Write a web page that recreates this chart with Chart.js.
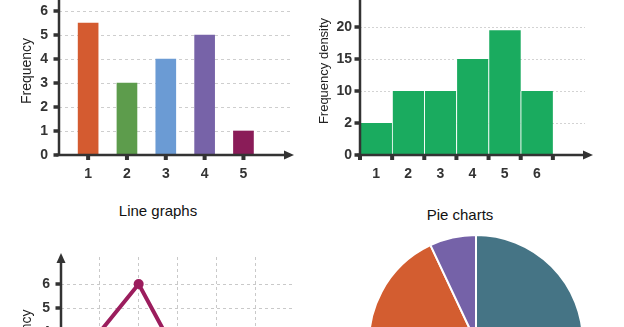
<!DOCTYPE html>
<html><head><meta charset="utf-8">
<script src="https://cdn.jsdelivr.net/npm/chart.js@4.4.1/dist/chart.umd.min.js"></script>
<style>
html,body{margin:0;padding:0;background:#fff;width:624px;height:327px;overflow:hidden;position:relative;}
canvas{position:absolute;display:block;}
.title{position:absolute;font:15px 'Liberation Sans',Arial,sans-serif;line-height:15px;color:#111;white-space:nowrap;transform:translateX(-50%);}
</style></head><body>
<canvas id="cBar" width="310" height="223" style="left:0;top:-33px"></canvas>
<canvas id="cHist" width="314" height="223" style="left:310px;top:-33px"></canvas>
<div class="title" style="left:158px;top:203px">Line graphs</div>
<canvas id="cLine" width="310" height="230" style="left:0;top:230px"></canvas>
<div class="title" style="left:460px;top:207px">Pie charts</div>
<canvas id="cPie" width="216" height="216" style="left:368px;top:234px"></canvas>
<script>
// ---- data ----
const barCategories = [1, 2, 3, 4, 5];
const barValues = [5.5, 3, 4, 5, 1];
const barColors = ['#d45b30', '#5d9c4c', '#6b9bd4', '#7763a8', '#8a1c58'];
const barYTicks = [0, 1, 2, 3, 4, 5, 6];

const histCategories = ['1', '2', '3', '4', '5', '6'];
const histValues = [5, 10, 10, 15, 19.5, 10];
const histYTickValues = [0, 5, 10, 15, 20];
const histYTickLabels = ['0', '2', '10', '15', '20'];

const lineX = [1, 2, 3];
const lineValues = [4, 6, 3];
const lineXGrid = [1, 2, 3, 4, 5];
const lineYTicks = [0, 1, 2, 3, 4, 5, 6];

const pieLabels = ['A', 'B', 'C'];
const pieValues = [52, 41, 7];
const pieColors = ['#457485', '#d35d30', '#7562a8'];

// ---- styles ----
const AXIS = '#333';
const FONT = "'Liberation Sans', Arial, sans-serif";
const tickFont = {family: FONT, size: 14, weight: 'bold'};

const axesPlugin = {
  id: 'axes',
  afterDraw(chart, args, o) {
    const {ctx} = chart, a = chart.chartArea, xs = chart.scales.x, ys = chart.scales.y;
    ctx.save();
    ctx.fillStyle = AXIS; ctx.strokeStyle = AXIS; ctx.lineWidth = 2.5;
    const ax = a.left;
    ctx.beginPath();
    ctx.moveTo(ax, a.bottom + 1);
    ctx.lineTo(ax, o.yArrow ? o.yTop + 8 : o.yTop);
    ctx.stroke();
    if (o.yArrow) {
      ctx.beginPath();
      ctx.moveTo(ax, o.yTop); ctx.lineTo(ax - 4.5, o.yTop + 10); ctx.lineTo(ax + 4.5, o.yTop + 10);
      ctx.closePath(); ctx.fill();
    }
    ctx.beginPath();
    ctx.moveTo(ax - 3, a.bottom); ctx.lineTo(o.xTip - 8, a.bottom); ctx.stroke();
    ctx.beginPath();
    ctx.moveTo(o.xTip, a.bottom); ctx.lineTo(o.xTip - 10, a.bottom - 4.5); ctx.lineTo(o.xTip - 10, a.bottom + 4.5);
    ctx.closePath(); ctx.fill();
    ys.ticks.forEach(t => {
      const y = ys.getPixelForValue(t.value);
      ctx.fillRect(ax - 5.5, y - 1.75, 5, 3.5);
    });
    (o.xMarks || []).forEach(v => {
      const x = xs.getPixelForValue(v);
      ctx.fillRect(x - 2, a.bottom, 4, 5);
    });
    ctx.restore();
  }
};

Chart.defaults.font.family = FONT;
Chart.defaults.color = AXIS;

// ---- bar chart ----
new Chart(document.getElementById('cBar'), {
  type: 'bar',
  data: {
    datasets: [{
      data: barCategories.map((c, i) => ({x: c, y: barValues[i]})),
      backgroundColor: barColors,
      barThickness: 20
    }]
  },
  options: {
    responsive: false, animation: false,
    layout: {padding: {top: 20, right: 18, left: 0, bottom: 0}},
    plugins: {legend: {display: false}, tooltip: {enabled: false},
      axes: {yTop: 0, yArrow: false, xTip: 294, xMarks: barCategories}},
    scales: {
      x: {type: 'linear', min: 0.25, max: 6.25, offset: false,
        afterBuildTicks: s => { s.ticks = barCategories.map(v => ({value: v})); },
        afterFit: s => { s.height = 35; },
        grid: {display: false, drawTicks: false}, border: {display: false},
        ticks: {font: tickFont, color: AXIS, padding: 11}},
      y: {min: 0, max: 7, z: 1,
        afterBuildTicks: s => { s.ticks = barYTicks.map(v => ({value: v})); },
        afterFit: s => { s.width = 59; },
        grid: {color: 'rgba(190,190,190,0.75)', drawTicks: false},
        border: {display: false, dash: [3, 3]},
        title: {display: true, text: 'Frequency', font: {family: FONT, size: 14}, color: '#222', padding: {top: 19, bottom: 0}},
        ticks: {font: tickFont, color: AXIS, padding: 11}}
    }
  },
  plugins: [axesPlugin]
});

// ---- histogram ----
new Chart(document.getElementById('cHist'), {
  type: 'bar',
  data: {
    datasets: [{
      data: histValues.map((v, i) => ({x: i + 0.5, y: v})),
      backgroundColor: '#1aab5f',
      borderColor: '#ffffff',
      borderWidth: {left: 1, right: 0, top: 0, bottom: 0},
      borderSkipped: false,
      barPercentage: 1, categoryPercentage: 1
    }]
  },
  options: {
    responsive: false, animation: false,
    layout: {padding: {top: 20, right: 39, left: 0, bottom: 0}},
    plugins: {legend: {display: false}, tooltip: {enabled: false},
      axes: {yTop: 0, yArrow: false, xTip: 283, xMarks: histValues.map((v, i) => i).concat([histValues.length])}},
    scales: {
      x: {type: 'linear', min: 0, max: 7, offset: false,
        afterBuildTicks: s => { s.ticks = histCategories.map((c, i) => ({value: i + 0.5})); },
        afterFit: s => { s.height = 35; },
        grid: {display: false, drawTicks: false}, border: {display: false},
        ticks: {font: tickFont, color: AXIS, padding: 11,
          callback: (v, i) => histCategories[i]}},
      y: {min: 0, max: 26.25, z: 1,
        afterBuildTicks: s => { s.ticks = histYTickValues.map(v => ({value: v})); },
        afterFit: s => { s.width = 50; },
        grid: {color: 'rgba(200,200,200,0.8)', drawTicks: false},
        border: {display: false, dash: [2, 2]},
        title: {display: true, text: 'Frequency density', font: {family: FONT, size: 13}, color: '#222', padding: {top: 7, bottom: 0}},
        ticks: {font: tickFont, color: AXIS, padding: 8,
          callback: (v, i) => histYTickLabels[i]}}
    }
  },
  plugins: [axesPlugin]
});

// ---- line chart ----
new Chart(document.getElementById('cLine'), {
  type: 'line',
  data: {
    datasets: [{
      data: lineX.map((x, i) => ({x: x, y: lineValues[i]})),
      borderColor: '#9b1d5d', backgroundColor: '#9b1d5d',
      borderWidth: 4, pointRadius: 5, pointBorderWidth: 0, tension: 0
    }]
  },
  options: {
    responsive: false, animation: false,
    layout: {padding: {top: 27, right: 16, left: 0, bottom: 0}},
    plugins: {legend: {display: false}, tooltip: {enabled: false},
      axes: {yTop: 23, yArrow: true, xTip: 300, xMarks: lineXGrid}},
    scales: {
      x: {type: 'linear', min: 0, max: 6,
        afterBuildTicks: s => { s.ticks = lineXGrid.map(v => ({value: v})); },
        afterFit: s => { s.height = 32; },
        grid: {color: 'rgba(195,195,195,0.9)', drawTicks: false}, border: {display: false, dash: [3, 3]},
        ticks: {font: tickFont, color: AXIS, padding: 10}},
      y: {min: 0, max: 7.125,
        afterBuildTicks: s => { s.ticks = lineYTicks.map(v => ({value: v})); },
        afterFit: s => { s.width = 61; },
        grid: {color: 'rgba(195,195,195,0.9)', drawTicks: false},
        border: {display: false, dash: [3, 3]},
        title: {display: true, text: 'Frequency', font: {family: FONT, size: 14}, color: '#222', padding: {top: 19, bottom: 0}},
        ticks: {font: tickFont, color: AXIS, padding: 11}}
    }
  },
  plugins: [axesPlugin]
});

// ---- pie chart ----
new Chart(document.getElementById('cPie'), {
  type: 'pie',
  data: {labels: pieLabels, datasets: [{data: pieValues, backgroundColor: pieColors, borderColor: '#ffffff', borderWidth: 2}]},
  options: {
    responsive: false, animation: false,
    layout: {padding: 0},
    plugins: {legend: {display: false}, tooltip: {enabled: false}}
  }
});
</script>
</body></html>
